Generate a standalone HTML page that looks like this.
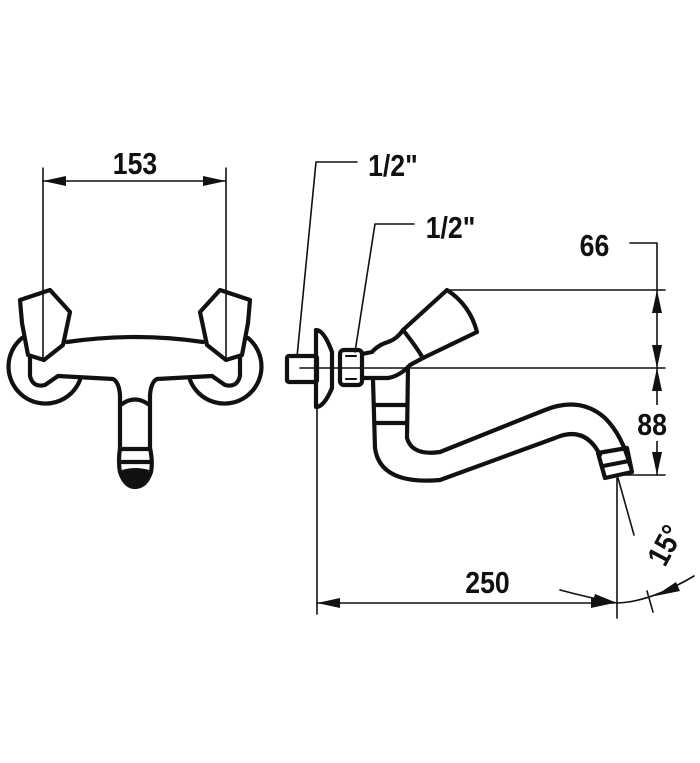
<!DOCTYPE html>
<html><head><meta charset="utf-8"><style>
html,body{margin:0;padding:0;background:#fff}
svg{display:block}
text{font-family:"Liberation Sans",sans-serif;font-weight:bold;font-size:31px;fill:#111}
</style></head><body>
<svg width="700" height="763" viewBox="0 0 700 763" xmlns="http://www.w3.org/2000/svg">
<g fill="none" stroke="#111" stroke-linejoin="round" stroke-linecap="round">
<!-- LEFT VIEW -->
<g stroke-width="1.6">
<line x1="43" y1="168" x2="43" y2="360"/>
<line x1="226" y1="168" x2="226" y2="360"/>
<line x1="43" y1="181" x2="226" y2="181"/>
</g>
<g stroke-width="4.2">
<path d="M22,338 A37,37 0 1 0 80,380"/>
<path d="M248,338 A37,37 0 1 1 190,380"/>
<path d="M67,342 Q136,332 203,342"/>
<path d="M30,356 L30,376 Q33,388 45,385 L58,376 L113,379 Q119,382 120,395 L120,448 Q118,462 120,472 Q125,487 135,487 Q146,487 151,472 Q153,462 150,448 L150,395 Q151,382 157,379 L212,376 L225,385 Q237,388 240,376 L240,356"/>
<line x1="121" y1="449" x2="150" y2="449"/>
<line x1="121" y1="462" x2="150" y2="462"/>
<path d="M122,404 Q135,395 148,404"/>
<path d="M20,300 L50,290 L70,312 L63,345 L44,360 L28,355 L22,323 Z"/>
<path d="M250,300 L220,290 L200,312 L207,345 L226,360 L242,355 L248,323 Z"/>
</g>
<path d="M122,470 Q135,466 149,470 Q148,486 135,487 Q122,486 122,470Z" fill="#111" stroke="none"/>

<!-- RIGHT VIEW -->
<g stroke-width="1.6">
<polyline points="357,162 316,162 297,357"/>
<polyline points="414,224 375,224 355,352"/>
<polyline points="630,243 657,243 657,475"/>
<line x1="447" y1="290" x2="665" y2="290"/>
<line x1="300" y1="368" x2="665" y2="368"/>
<line x1="615" y1="475" x2="665" y2="475"/>
<line x1="317" y1="405" x2="317" y2="614"/>
<line x1="317" y1="603" x2="614" y2="603"/>
<line x1="617" y1="478" x2="617" y2="618"/>
<line x1="618" y1="478" x2="634" y2="535"/>
<path d="M560,590 Q590,598 617,603 Q650,602 694,576"/>
<line x1="647" y1="591" x2="653" y2="612"/>
<line x1="346" y1="356" x2="356" y2="356" stroke-width="2"/>
<line x1="346" y1="379" x2="356" y2="379" stroke-width="2"/>
</g>
<g stroke-width="4.2">
<rect x="287" y="356" width="30" height="26" rx="2"/>
<path d="M316,330 Q324,330 332,352 L332,388 Q324,407 316,407 Z"/>
<rect x="340" y="350" width="22" height="35" rx="4"/>
<path d="M362,354 L372,352 Q378,345 388,342 Q397,339 403,330"/>
<path d="M362,378 L388,378 Q400,376 410,365 L423,358"/>
<path d="M403,330 L447,290 Q470,305 477,332 L423,358 Q415,345 403,330Z"/>
<path d="M373,380 L375,448 Q380,485 440,480 L555,438 Q585,425 600,455"/>
<path d="M408,367 L407,438 Q412,456 440,452 L545,410 Q580,396 605,418 Q622,435 630,465"/>
<line x1="376" y1="405" x2="406" y2="405"/>
<line x1="376" y1="423" x2="406" y2="423"/>
<path d="M598,453 L627,448 L632,472 L605,478 Z"/>
<line x1="603" y1="466" x2="629" y2="461"/>
</g>
</g>
<g fill="#111">
<polygon points="43,181 66,176 66,186"/>
<polygon points="226,181 203,176 203,186"/>
<polygon points="657,290 652,313 662,313"/>
<polygon points="657,368 652,345 662,345"/>
<polygon points="657,368 652,391 662,391"/>
<polygon points="657,475 652,452 662,452"/>
<polygon points="317,603 340,598 340,608"/>
<polygon points="614,603 591,598 591,608"/>
<polygon points="617,603 595,594 592,604"/>
<polygon points="655,596 676,582 680,591"/>
</g>
<rect x="636" y="405" width="40" height="36" fill="#fff"/>
<g transform="scale(0.86,1)">
<text x="157" y="174" text-anchor="middle">153</text>
<text x="428" y="176">1/2"</text>
<text x="495" y="238">1/2"</text>
<text x="674" y="256">66</text>
<text x="741" y="435">88</text>
<text x="541" y="593">250</text>
</g>
<text x="0" y="0" transform="translate(665,568) rotate(-62) scale(0.86,1)">15°</text>
</svg>
</body></html>
